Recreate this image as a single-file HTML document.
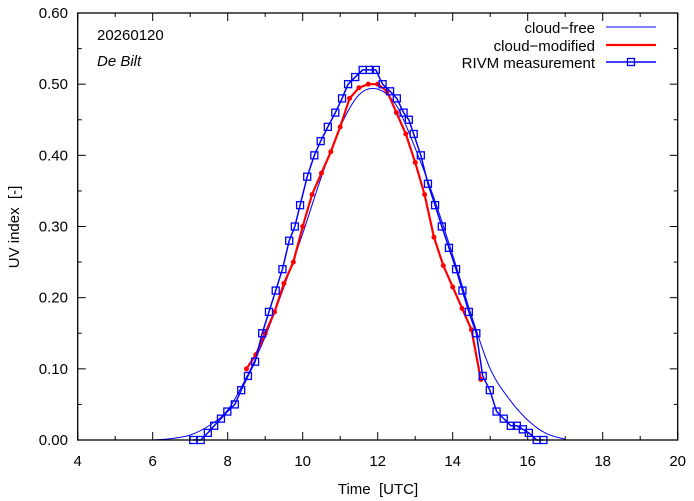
<!DOCTYPE html>
<html><head><meta charset="utf-8"><style>
html,body{margin:0;padding:0;background:#fff;}
svg{display:block;font-family:"Liberation Sans",sans-serif;}
</style></head><body>
<svg id="chart" width="694" height="501" viewBox="0 0 694 501" xmlns="http://www.w3.org/2000/svg">
<g id="axes"></g>
<g id="series"></g>
<rect x="77.7" y="13" width="600" height="427" fill="none" stroke="#000" stroke-width="1.3"/>
<text x="97" y="40" font-size="15">20260120</text>
<text x="97" y="66" font-size="15" font-style="italic">De Bilt</text>
<text x="378" y="494" font-size="15" text-anchor="middle" xml:space="preserve">Time  [UTC]</text>
<text transform="translate(19,227) rotate(-90)" font-size="15" text-anchor="middle" xml:space="preserve">UV index  [-]</text>
<g>
<text x="595" y="33" font-size="15" text-anchor="end">cloud−free</text>
<line x1="606" y1="27" x2="656" y2="27" stroke="#0000ff" stroke-width="1"/>
<text x="595" y="51" font-size="15" text-anchor="end">cloud−modified</text>
<line x1="606" y1="45" x2="656" y2="45" stroke="#ff0000" stroke-width="2.2"/>
<text x="595" y="68" font-size="15" text-anchor="end">RIVM measurement</text>
<line x1="606" y1="62" x2="656" y2="62" stroke="#0000ff" stroke-width="1.5"/>
<rect x="627.5" y="58.5" width="7" height="7" fill="none" stroke="#0000ff" stroke-width="1.3"/>
</g>
</svg>
<script>
const xTicks = [4,6,8,10,12,14,16,18,20];
const yTicks = [0,0.1,0.2,0.3,0.4,0.5,0.6];
const yTickLabels = ["0.00","0.10","0.20","0.30","0.40","0.50","0.60"];
const clearTimes = [6.0,6.5,7.0,7.5,8.0,8.5,9.0,9.5,10.0,10.5,11.0,11.5,12.0,12.5,13.0,13.5,14.0,14.5,15.0,15.5,16.0,16.5,17.0];
const clearValues = [0,0.002,0.007,0.02,0.042,0.088,0.145,0.215,0.29,0.37,0.44,0.485,0.493,0.47,0.41,0.34,0.26,0.175,0.10,0.058,0.028,0.009,0.001];
const cloudTimes = [8.5,8.75,9.0,9.25,9.5,9.75,10.0,10.25,10.5,10.75,11.0,11.25,11.5,11.75,12.0,12.25,12.5,12.75,13.0,13.25,13.5,13.75,14.0,14.25,14.5,14.75];
const cloudValues = [0.10,0.12,0.15,0.18,0.22,0.25,0.30,0.345,0.375,0.405,0.44,0.48,0.495,0.50,0.50,0.49,0.46,0.43,0.39,0.345,0.285,0.245,0.215,0.185,0.155,0.085];
const measTimes = [7.08,7.28,7.47,7.64,7.82,7.99,8.19,8.36,8.54,8.73,8.92,9.10,9.28,9.46,9.64,9.79,9.93,10.12,10.31,10.48,10.67,10.87,11.05,11.21,11.40,11.60,11.79,11.95,12.13,12.33,12.51,12.69,12.83,12.96,13.15,13.34,13.53,13.71,13.90,14.09,14.26,14.43,14.63,14.80,14.99,15.17,15.36,15.55,15.71,15.87,16.03,16.24,16.42];
const measValues = [0,0,0.01,0.02,0.03,0.04,0.05,0.07,0.09,0.11,0.15,0.18,0.21,0.24,0.28,0.30,0.33,0.37,0.40,0.42,0.44,0.46,0.48,0.50,0.51,0.52,0.52,0.52,0.50,0.49,0.48,0.46,0.45,0.43,0.40,0.36,0.33,0.30,0.27,0.24,0.21,0.18,0.15,0.09,0.07,0.04,0.03,0.02,0.02,0.015,0.01,0,0];

const NS="http://www.w3.org/2000/svg";
const X0=77.7,X1=677.7,Y0=440,Y1=13;
function sx(v){return X0+(v-4)/16*(X1-X0);}
function sy(v){return Y0-v/0.6*(Y0-Y1);}
function mk(tag,attrs,parent){const e=document.createElementNS(NS,tag);for(const k in attrs)e.setAttribute(k,attrs[k]);parent.appendChild(e);return e;}
const axes=document.getElementById('axes');
const series=document.getElementById('series');
for(let v=4;v<=20;v+=1){
  const major=(v%2===0);const L=major?8:4;const x=sx(v);
  const t1=mk('line',{x1:x,y1:Y0,x2:x,y2:Y0-L,stroke:'#000','stroke-width':1},axes);
  
  
  const t2=mk('line',{x1:x,y1:Y1,x2:x,y2:Y1+L,stroke:'#000','stroke-width':1},axes);
  
  
}
xTicks.forEach(v=>{
  const t=mk('text',{x:sx(v),y:466,'font-size':15,'text-anchor':'middle'},axes);t.textContent=String(v);
  
  
});
for(let i=0;i<=12;i++){
  const v=i*0.05;const major=(i%2===0);const L=major?8:4;const y=sy(v);
  const t1=mk('line',{x1:X0,y1:y,x2:X0+L,y2:y,stroke:'#000','stroke-width':1},axes);
  
  
  const t2=mk('line',{x1:X1,y1:y,x2:X1-L,y2:y,stroke:'#000','stroke-width':1},axes);
  
  
}
yTicks.forEach((v,i)=>{
  const t=mk('text',{x:68,y:sy(v)+5,'font-size':15,'text-anchor':'end'},axes);t.textContent=yTickLabels[i];
  
  
});
function smoothPath(xs,ys){
  const p=xs.map((x,i)=>[sx(x),sy(ys[i])]);
  let d='M'+p[0][0]+','+p[0][1];
  for(let i=0;i<p.length-1;i++){
    const a=p[Math.max(0,i-1)],b=p[i],c=p[i+1],e=p[Math.min(p.length-1,i+2)];
    const c1=[b[0]+(c[0]-a[0])/6,b[1]+(c[1]-a[1])/6],c2=[c[0]-(e[0]-b[0])/6,c[1]-(e[1]-b[1])/6];
    d+=' C'+c1+' '+c2+' '+c;
  }
  return d;
}
const cf=mk('path',{d:smoothPath(clearTimes,clearValues),fill:'none',stroke:'#0000ff','stroke-width':1},series);


const cm=mk('polyline',{points:cloudTimes.map((t,i)=>sx(t)+','+sy(cloudValues[i])).join(' '),fill:'none',stroke:'#ff0000','stroke-width':2.2},series);


cloudTimes.forEach((t,i)=>{
  const c=mk('circle',{cx:sx(t),cy:sy(cloudValues[i]),r:2.5,fill:'#ff0000'},series);
  
  
});
const ml=mk('polyline',{points:measTimes.map((t,i)=>sx(t)+','+sy(measValues[i])).join(' '),fill:'none',stroke:'#0000ff','stroke-width':1.5},series);


measTimes.forEach((t,i)=>{
  const r=mk('rect',{x:sx(t)-3.5,y:sy(measValues[i])-3.5,width:7,height:7,fill:'none',stroke:'#0000ff','stroke-width':1.3},series);
  
  
});
</script>
</body></html>
